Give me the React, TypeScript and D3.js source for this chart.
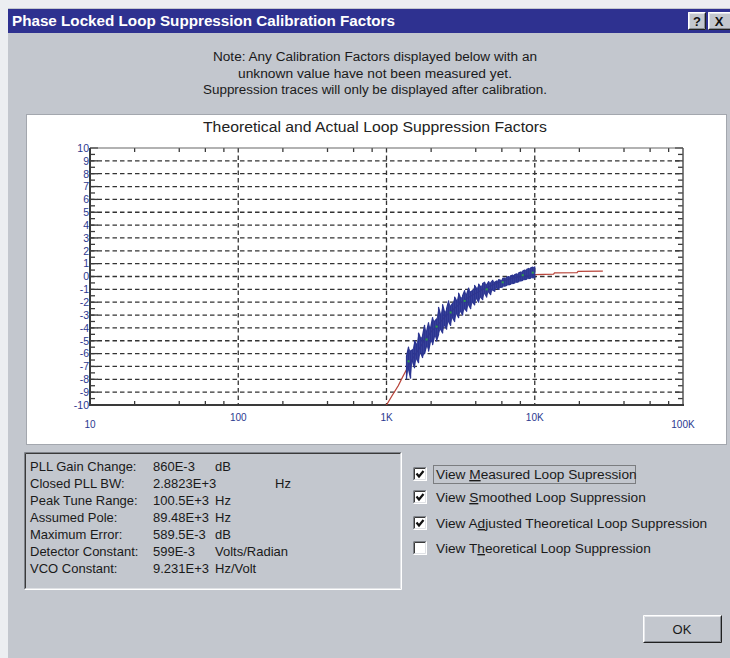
import React from 'react';
import * as d3 from 'd3';

// ---------- data ----------
const xTickValues = [10, 100, 1000, 10000, 100000];
const xTickLabels = ['10', '100', '1K', '10K', '100K'];
const yTickValues = [10, 9, 8, 7, 6, 5, 4, 3, 2, 1, 0, -1, -2, -3, -4, -5, -6, -7, -8, -9, -10];
const yTickLabels = ['10', '9', '8', '7', '6', '5', '4', '3', '2', '1', '0', '-1', '-2', '-3', '-4', '-5', '-6', '-7', '-8', '-9', '-10'];
const minorMultipliers = [2, 4, 6, 8];

// Adjusted theoretical loop suppression (red)
const theoryFreq = [1000, 1100, 1200, 1300, 1400, 1500, 1600, 1800, 2000, 2200, 2500, 2800, 3200, 3600, 4000, 4500, 5000, 5600, 6300, 7100, 8000, 9000, 10000, 13400, 13600, 19300, 19600, 28800];
const theoryDb = [-10, -9.2, -8.5, -7.7, -7.0, -6.4, -5.9, -5.0, -4.3, -3.8, -3.1, -2.6, -2.0, -1.6, -1.3, -1.0, -0.75, -0.5, -0.3, -0.12, 0.0, 0.08, 0.15, 0.18, 0.28, 0.3, 0.4, 0.42];

// Measured loop suppression (blue): min / max per frequency bin
const measuredFreq = [1365, 1408, 1453, 1498, 1546, 1595, 1645, 1697, 1751, 1806, 1863, 1922, 1983, 2046, 2110, 2177, 2246, 2317, 2390, 2466, 2544, 2624, 2707, 2792, 2881, 2972, 3066, 3162, 3262, 3365, 3472, 3582, 3695, 3812, 3932, 4056, 4184, 4317, 4453, 4594, 4740, 4890, 5044, 5204, 5368, 5538, 5713, 5894, 6080, 6273, 6471, 6676, 6887, 7105, 7330, 7562, 7801, 8048, 8302, 8565, 8836, 9115, 9403, 9694, 10000];
const measuredHigh = [-6.2, -5.5, -5.8, -5.7, -5.0, -5.3, -4.4, -4.8, -4.6, -3.8, -4.3, -3.6, -4.0, -3.2, -3.5, -3.3, -2.4, -3.0, -2.2, -2.8, -2.5, -1.9, -2.3, -2.1, -1.6, -1.9, -1.3, -1.7, -1.5, -1.1, -1.4, -0.9, -1.2, -1.1, -0.7, -0.95, -0.6, -0.8, -0.55, -0.45, -0.65, -0.4, -0.5, -0.3, -0.45, -0.35, -0.25, -0.3, -0.15, -0.12, -0.05, -0.02, 0.05, 0.1, 0.15, 0.2, 0.28, 0.35, 0.42, 0.5, 0.55, 0.62, 0.68, 0.72, 0.78];
const measuredLow = [-8.0, -7.2, -7.9, -6.6, -7.1, -6.4, -6.7, -5.9, -6.3, -6.0, -5.4, -5.8, -5.0, -5.3, -4.6, -5.0, -4.5, -4.1, -4.4, -3.8, -4.1, -3.5, -3.8, -3.2, -3.5, -2.9, -3.2, -2.7, -3.0, -2.5, -2.7, -2.2, -2.5, -2.0, -2.2, -1.7, -2.0, -1.6, -1.8, -1.3, -1.6, -1.2, -1.4, -1.05, -1.15, -0.9, -1.0, -0.85, -0.8, -0.75, -0.7, -0.65, -0.6, -0.55, -0.5, -0.45, -0.4, -0.35, -0.3, -0.25, -0.2, -0.16, -0.12, -0.1, -0.08];

// Smoothed loop suppression (green)
const smoothedFreq = [1408, 1863, 2177, 2707, 3365, 4740, 6080, 8302, 9694];
const smoothedDb = [-6.6, -4.9, -3.9, -2.8, -1.9, -1.0, -0.45, 0.1, 0.3];

const infoLabels = ['PLL Gain Change:', 'Closed PLL BW:', 'Peak Tune Range:', 'Assumed Pole:', 'Maximum Error:', 'Detector Constant:', 'VCO Constant:'];
const infoValues = ['860E-3', '2.8823E+3', '100.5E+3', '89.48E+3', '589.5E-3', '599E-3', '9.231E+3'];
const infoUnits = ['dB', 'Hz', 'Hz', 'Hz', 'dB', 'Volts/Radian', 'Hz/Volt'];

const checkboxPre = ['View ', 'View ', 'View A', 'View T'];
const checkboxKey = ['M', 'S', 'd', 'h'];
const checkboxPost = ['easured Loop Supression', 'moothed Loop Suppression', 'justed Theoretical Loop Suppression', 'eoretical Loop Suppression'];
const checkboxChecked = [true, true, true, false];

const noteLines = [
  'Note: Any Calibration Factors displayed below with an',
  'unknown value have not been measured yet.',
  'Suppression traces will only be displayed after calibration.',
];

// ---------- component ----------
const FONT = "'Liberation Sans', Arial, sans-serif";
const GRAY = '#c3c7ce';

function Bevel({ x, y, w, h, raised }: { x: number; y: number; w: number; h: number; raised: boolean }) {
  const lt = raised ? '#ffffff' : '#7f838a';
  const rb = raised ? '#202020' : '#ffffff';
  const lt2 = raised ? '#e4e6ea' : '#3a3a3a';
  const rb2 = raised ? '#868a91' : '#dfe1e5';
  return (
    <g fill="none" strokeWidth={1}>
      <path d={`M${x + 0.5},${y + h - 0.5} V${y + 0.5} H${x + w - 0.5}`} stroke={lt} />
      <path d={`M${x + 0.5},${y + h - 0.5} H${x + w - 0.5} V${y + 0.5}`} stroke={rb} />
      <path d={`M${x + 1.5},${y + h - 1.5} V${y + 1.5} H${x + w - 1.5}`} stroke={lt2} />
      <path d={`M${x + 1.5},${y + h - 1.5} H${x + w - 1.5} V${y + 1.5}`} stroke={rb2} />
    </g>
  );
}

export default function App() {
  const x = d3.scaleLog().domain([10, 100000]).range([90, 683]);
  const y = d3.scaleLinear().domain([-10, 10]).range([405, 148]);
  const [x0, x1] = x.range();
  const [yb, yt] = y.range();

  const theoryLine = d3.line<number>().x((_, i) => x(theoryFreq[i])).y((d) => y(d));

  const measuredPts: [number, number][] = [];
  measuredFreq.forEach((f, i) => {
    const a = measuredLow[i];
    const b = measuredHigh[i];
    if (i % 2 === 0) {
      measuredPts.push([f, a], [f, b]);
    } else {
      measuredPts.push([f, b], [f, a]);
    }
  });
  const measuredLine = d3.line<[number, number]>().x((d) => x(d[0])).y((d) => y(d[1]));
  const measuredArea = d3
    .area<number>()
    .x((f) => x(f))
    .y0((_, i) => y(measuredLow[i]))
    .y1((_, i) => y(measuredHigh[i]));

  const minorTicks: number[] = [];
  xTickValues.slice(0, -1).forEach((dec) => minorMultipliers.forEach((m) => minorTicks.push(dec * m)));
  const halfTicks = yTickValues.slice(0, -1).map((v) => v - 0.5);

  const dash = '4.5 3';
  const axisColor = '#3a3a3a';
  const labelColor = '#2b3990';
  const navy = '#2b3592';

  return (
    <svg width={730} height={658} style={{ position: 'absolute', left: 0, top: 0 }} fontFamily={FONT}>
      <rect x={0} y={0} width={730} height={658} fill="#eceef1" />
      <rect x={8} y={8} width={730} height={650} fill={GRAY} />
      {/* title bar */}
      <rect x={8} y={9} width={722} height={24} fill="#2e3190" />
      <text x={12} y={26} fill="#fff" fontWeight="bold" fontSize={14} textLength={383} lengthAdjust="spacingAndGlyphs">
        Phase Locked Loop Suppression Calibration Factors
      </text>
      <rect x={688} y={12} width={18} height={18} fill={GRAY} />
      <Bevel x={688} y={12} w={18} h={18} raised />
      <text x={697} y={26} textAnchor="middle" fontWeight="bold" fontSize={13} fill="#111">?</text>
      <rect x={708} y={12} width={24} height={18} fill={GRAY} />
      <Bevel x={708} y={12} w={24} h={18} raised />
      <text x={719} y={26} textAnchor="middle" fontWeight="bold" fontSize={13} fill="#111">X</text>

      {/* note */}
      {noteLines.map((t, i) => (
        <text key={i} x={375} y={61 + i * 16.5} textAnchor="middle" fontSize={12.5} fill="#1a1a1a"
          textLength={[324, 274, 344][i]} lengthAdjust="spacingAndGlyphs">{t}</text>
      ))}

      {/* chart panel */}
      <rect x={26.5} y={114.5} width={700} height={330} fill="#fff" stroke="#a3a7ae" />
      <text x={375} y={132} textAnchor="middle" fontSize={14} fill="#222" textLength={344} lengthAdjust="spacingAndGlyphs">
        Theoretical and Actual Loop Suppression Factors
      </text>

      {/* grid */}
      <g stroke="#333" strokeWidth={1.3} strokeDasharray={dash}>
        {yTickValues.slice(1, -1).map((v) => (
          <line key={v} x1={x0} x2={x1} y1={y(v)} y2={y(v)} />
        ))}
        {xTickValues.slice(1, -1).map((v) => (
          <line key={v} x1={x(v)} x2={x(v)} y1={yt} y2={yb} />
        ))}
      </g>

      {/* ticks */}
      <g stroke={axisColor} strokeWidth={1.3}>
        {yTickValues.map((v) => (
          <g key={v}>
            <line x1={x0} x2={x0 + 8} y1={y(v)} y2={y(v)} />
            <line x1={x1} x2={x1 - 8} y1={y(v)} y2={y(v)} />
          </g>
        ))}
        {halfTicks.map((v) => (
          <g key={v}>
            <line x1={x0} x2={x0 + 5} y1={y(v)} y2={y(v)} />
            <line x1={x1} x2={x1 - 5} y1={y(v)} y2={y(v)} />
          </g>
        ))}
        {minorTicks.map((v) => (
          <g key={v}>
            <line x1={x(v)} x2={x(v)} y1={yt} y2={yt + 4} />
            <line x1={x(v)} x2={x(v)} y1={yb} y2={yb - 4} />
          </g>
        ))}
      </g>

      {/* frame */}
      <line x1={x0} x2={x1} y1={yt} y2={yt} stroke="#666" strokeWidth={1.2} />
      <line x1={x1} x2={x1} y1={yt} y2={yb} stroke="#555" strokeWidth={1.5} />
      <line x1={x0} x2={x0} y1={yt} y2={yb + 1} stroke={axisColor} strokeWidth={2} />
      <line x1={x0 - 1} x2={x1 + 1} y1={yb} y2={yb} stroke={axisColor} strokeWidth={2} />

      {/* tick labels */}
      {yTickValues.map((v, i) => (
        <text key={v} x={89} y={y(v) + 3.8} textAnchor="end" fontSize={10.5} fill={labelColor}>{yTickLabels[i]}</text>
      ))}
      {xTickValues.map((v, i) => (
        <text key={v} x={x(v)} y={i === 0 || i === 4 ? 428 : 421} textAnchor="middle" fontSize={10} fill={labelColor}>{xTickLabels[i]}</text>
      ))}

      {/* data */}
      <path d={theoryLine(theoryDb) || ''} fill="none" stroke="#b8443a" strokeWidth={1.3} />
      <path d={measuredArea(measuredFreq) || ''} fill={navy} fillOpacity={0.92} stroke="none" />
      <path d={measuredLine(measuredPts) || ''} fill="none" stroke={navy} strokeWidth={1.3} strokeLinejoin="round" />
      {smoothedFreq.map((f, i) => (
        <rect key={f} x={x(f) - 1} y={y(smoothedDb[i]) - 1} width={2} height={2} fill="#2fa04a" />
      ))}

      {/* info box */}
      <rect x={24} y={452} width={378} height={138} fill={GRAY} />
      <Bevel x={24} y={452} w={378} h={138} raised={false} />
      {infoLabels.map((t, i) => (
        <g key={t} fontSize={13} fill="#1a1a1a">
          <text x={30} y={471 + i * 17}>{t}</text>
          <text x={153} y={471 + i * 17}>{infoValues[i]}</text>
          <text x={i === 1 ? 275 : 215} y={471 + i * 17}>{infoUnits[i]}</text>
        </g>
      ))}

      {/* checkboxes */}
      {checkboxPre.map((pre, i) => {
        const cy = [474, 497, 523, 548][i];
        const bx = 413;
        const by = cy - 7;
        return (
          <g key={i}>
            <rect x={bx} y={by} width={14} height={14} fill="#fff" />
            <Bevel x={bx} y={by} w={14} h={14} raised={false} />
            {checkboxChecked[i] && (
              <path d={`M${bx + 3.5},${by + 6.5} L${bx + 6},${by + 9.5} L${bx + 10.5},${by + 4}`} fill="none" stroke="#111" strokeWidth={2.2} />
            )}
            <text x={436} y={cy + 5} fontSize={13.7} fill="#1a1a1a">
              {pre}
              <tspan style={{ textDecoration: 'underline' }}>{checkboxKey[i]}</tspan>
              {checkboxPost[i]}
            </text>
          </g>
        );
      })}
      <rect x={433.5} y={465.5} width={202} height={18} fill="none" stroke="#333" strokeWidth={1} strokeDasharray="1 1" />

      {/* OK button */}
      <rect x={643} y={615} width={79} height={28} fill={GRAY} />
      <Bevel x={643} y={615} w={79} h={28} raised />
      <text x={682} y={634} textAnchor="middle" fontSize={13} fill="#1a1a1a">OK</text>
    </svg>
  );
}
